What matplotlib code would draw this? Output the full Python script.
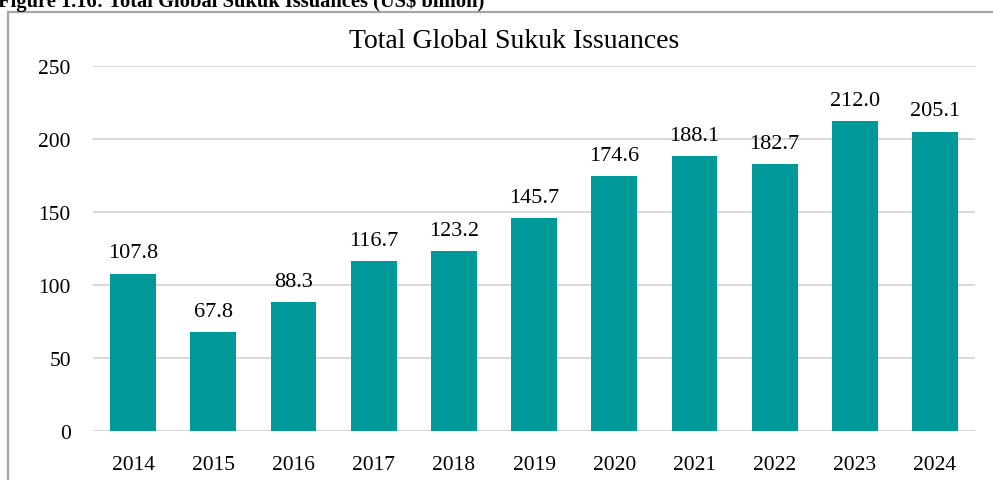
import matplotlib.pyplot as plt
from matplotlib.lines import Line2D

years = ["2014", "2015", "2016", "2017", "2018", "2019", "2020", "2021", "2022", "2023", "2024"]
issuances = [107.8, 67.8, 88.3, 116.7, 123.2, 145.7, 174.6, 188.1, 182.7, 212.0, 205.1]
y_ticks = [0, 50, 100, 150, 200, 250]

bar_color = "#009999"
grid_color = "#d9d9d9"
frame_color = "#a6a6a6"

plt.rcParams["font.family"] = ["Liberation Serif", "DejaVu Serif"]

fig = plt.figure(figsize=(9.93, 4.81), dpi=100)
ax = fig.add_axes([0.0937, 0.1019, 0.8883, 0.7588])

x = list(range(len(years)))
bars = ax.bar(x, issuances, width=0.57, color=bar_color, zorder=2)
for rect, val in zip(bars, issuances):
    ax.annotate(f"{val:.1f}", (rect.get_x() + rect.get_width() / 2, val),
                xytext=(0, 8), textcoords="offset points",
                ha="center", va="bottom", fontsize=16, color="#000000")

ax.set_xlim(-0.5, len(years) - 0.5)
ax.set_ylim(0, 250)
ax.set_yticks(y_ticks)
ax.set_xticks(x)
ax.set_xticklabels(years)
ax.grid(axis="y", color=grid_color, linewidth=1.5, zorder=0)
ax.tick_params(axis="both", length=0, labelsize=15.5)
ax.tick_params(axis="y", pad=16)
ax.tick_params(axis="x", pad=17)
for s in ax.spines.values():
    s.set_visible(False)

fig.text(0.5176, 0.913, "Total Global Sukuk Issuances", ha="center", va="center", fontsize=20)

# cropped figure caption and frame from the source document
fig.text(-0.002, 1 - 7 / 481, "Figure 1.16: Total Global Sukuk Issuances (US$ billion)",
         ha="left", va="baseline", fontsize=14.8, fontweight="bold")
fig.add_artist(Line2D([8 / 993, 8 / 993], [0, 1 - 13 / 481], color=frame_color, linewidth=1.6))
fig.add_artist(Line2D([8 / 993, 1], [1 - 13 / 481, 1 - 13 / 481], color=frame_color, linewidth=1.6))

fig.savefig("out.png", dpi=100)
